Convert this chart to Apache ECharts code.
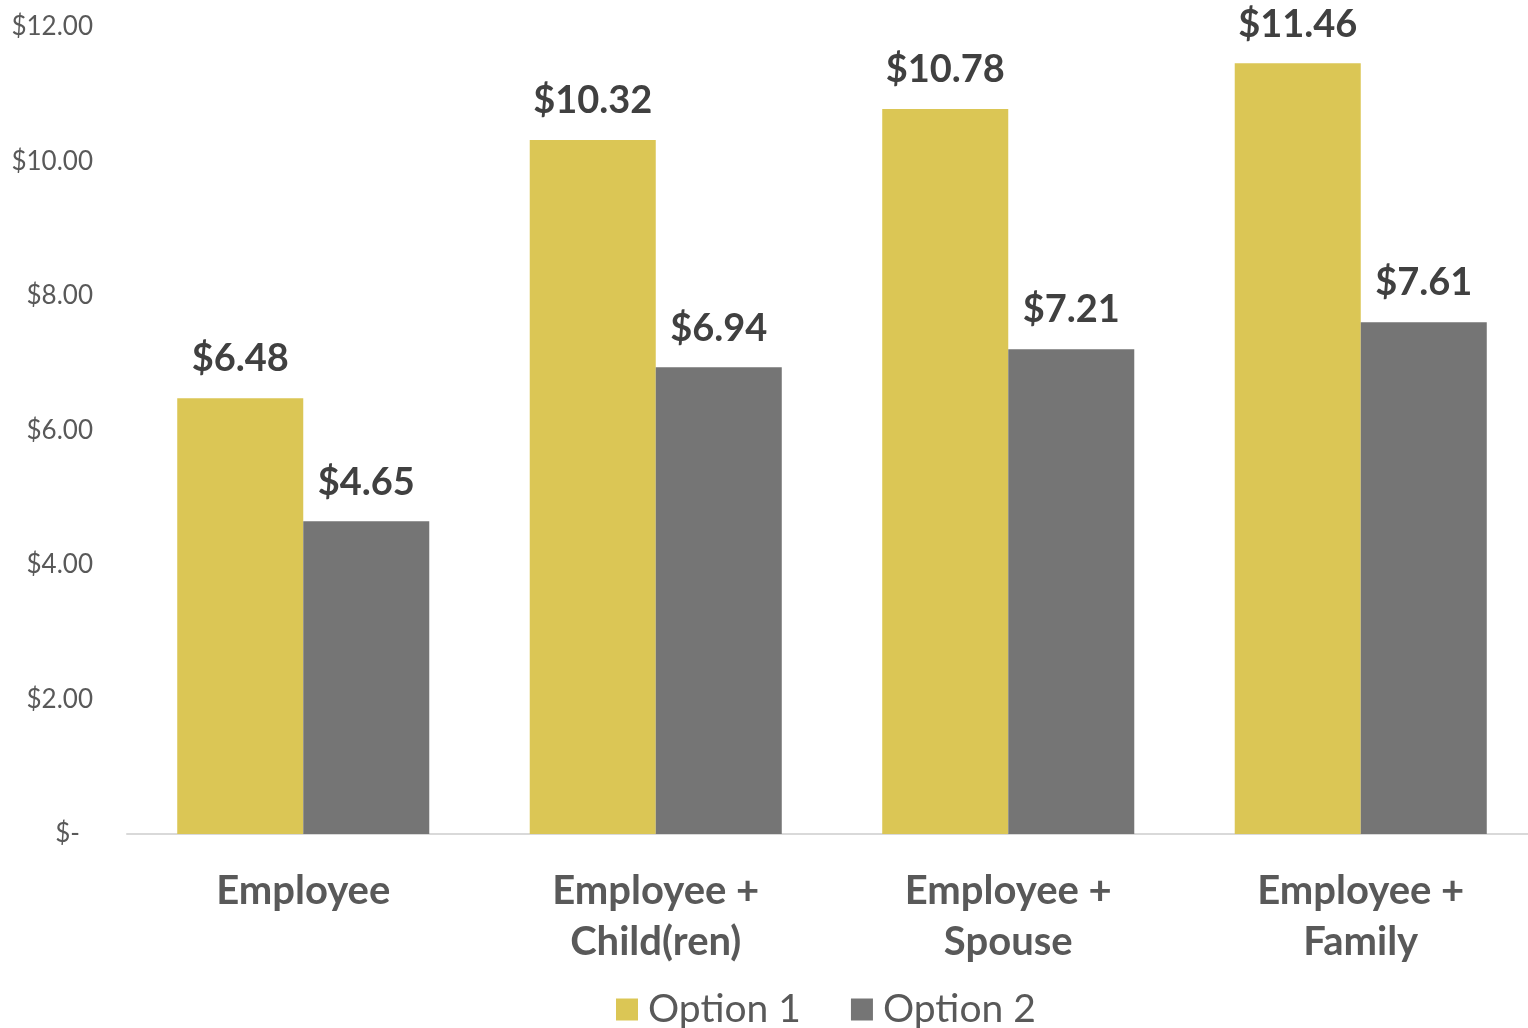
<!DOCTYPE html>
<html>
<head>
<meta charset="utf-8">
<script src="https://cdn.jsdelivr.net/npm/echarts@6/dist/echarts.min.js"></script>
<style>
  html, body { margin: 0; padding: 0; background: #fff; overflow: hidden; width: 1528px; height: 1028px; }
  #chart { width: 1540px; height: 1028px; }
</style>
</head>
<body>
<div id="chart"></div>
<script>
// Coverage tiers and per-tier costs for the two plan options
const categories = ['Employee', 'Employee +\nChild(ren)', 'Employee +\nSpouse', 'Employee +\nFamily'];
const option1 = [6.48, 10.32, 10.78, 11.46];
const option2 = [4.65, 6.94, 7.21, 7.61];
const seriesNames = ['Option 1', 'Option 2'];
const yMin = 0, yMax = 12, yStep = 2;

const FONT = 'Lato, "Open Sans", sans-serif';
const money = v => '$' + v.toFixed(2);

const chart = echarts.init(document.getElementById('chart'));
const labelStyle = {
  show: true,
  position: 'top',
  distance: 20,
  formatter: p => money(p.value),
  fontFamily: FONT,
  fontWeight: 'bold',
  fontSize: 38,
  color: '#404040'
};

chart.setOption({
  animation: false,
  backgroundColor: '#ffffff',
  grid: { left: 127, top: 27, right: 3, bottom: 194, containLabel: false },
  legend: {
    bottom: -6,
    left: 611,
    itemWidth: 22,
    itemHeight: 22,
    itemGap: 50,
    icon: 'rect',
    textStyle: { fontFamily: FONT, fontSize: 39, color: '#595959', padding: [0, 0, 0, 5] },
    data: seriesNames
  },
  xAxis: {
    type: 'category',
    data: categories,
    axisLine: { lineStyle: { color: '#D9D9D9', width: 2 } },
    axisTick: { show: false },
    axisLabel: {
      margin: 32,
      fontFamily: FONT,
      fontWeight: 'bold',
      fontSize: 40,
      lineHeight: 51,
      color: '#595959'
    }
  },
  yAxis: {
    type: 'value',
    min: yMin,
    max: yMax,
    interval: yStep,
    splitLine: { show: false },
    axisLine: { show: false },
    axisTick: { show: false },
    axisLabel: {
      margin: 34,
      fontFamily: FONT,
      fontSize: 26,
      color: '#595959',
      formatter: v => v === 0 ? '{z|$-}' : money(v),
      rich: { z: { fontFamily: FONT, fontSize: 26, color: '#595959', padding: [0, 13, 0, 0] } }
    }
  },
  series: [
    {
      name: seriesNames[0],
      type: 'bar',
      data: option1,
      barGap: '0%',
      barCategoryGap: '28.5%',
      itemStyle: { color: '#DBC655' },
      label: labelStyle
    },
    {
      name: seriesNames[1],
      type: 'bar',
      data: option2,
      barGap: '0%',
      barCategoryGap: '28.5%',
      itemStyle: { color: '#757575' },
      label: labelStyle
    }
  ]
});
</script>
</body>
</html>
